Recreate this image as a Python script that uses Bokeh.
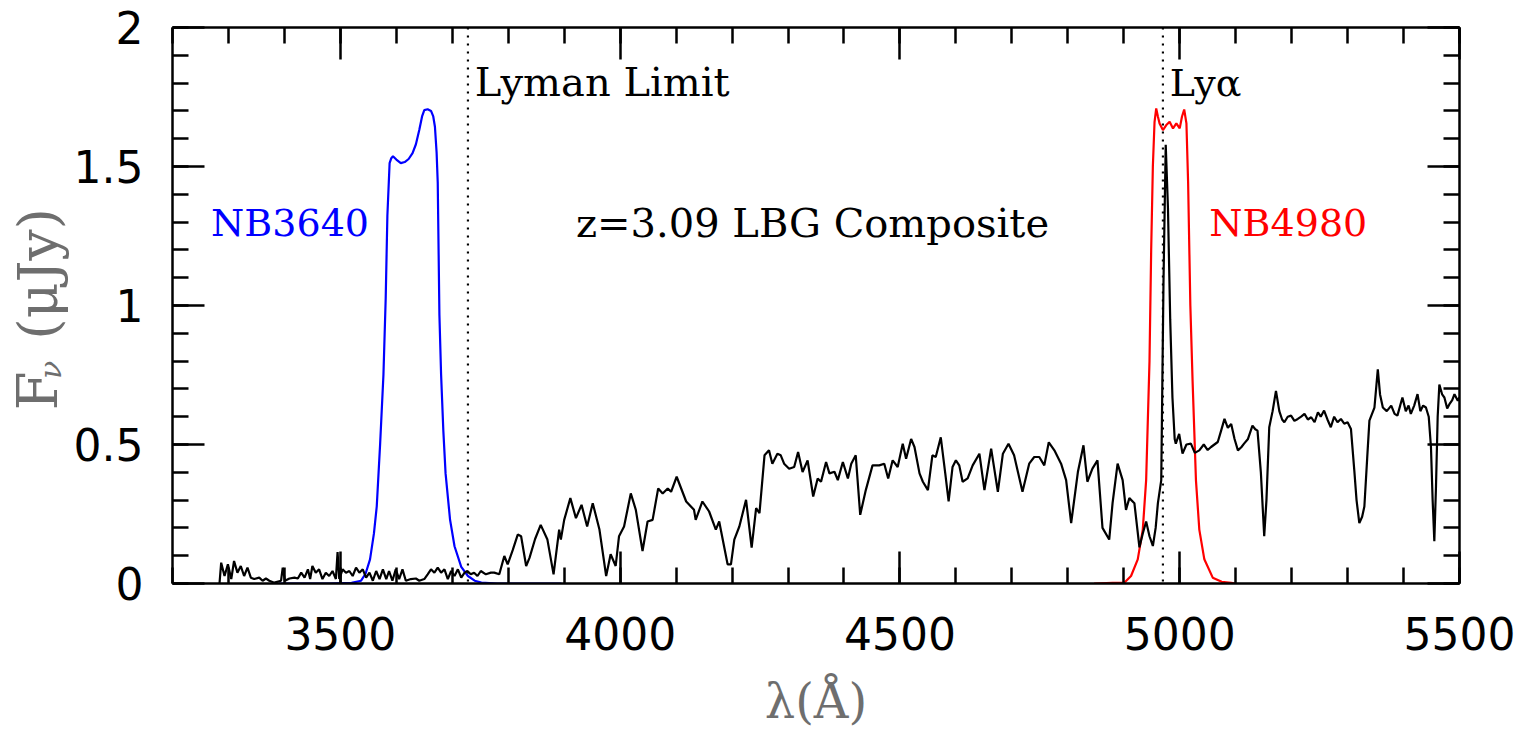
import math
from bokeh.plotting import figure
from bokeh.layouts import row
from bokeh.models import Range1d, LinearAxis, FixedTicker, Span, Label, CustomJSTickFormatter
from bokeh.core.properties import value
from bokeh.embed import file_html
from bokeh.resources import INLINE

# ---------------- data ----------------
spec_wave = [
    3284, 3287, 3293, 3299, 3305, 3310, 3316, 3322, 3328, 3334,
    3340, 3346, 3355, 3361, 3367, 3373, 3382, 3394, 3397, 3401,
    3409, 3418, 3424, 3430, 3436, 3442, 3446, 3450, 3456, 3462,
    3468, 3474, 3480, 3486, 3492, 3495, 3498, 3504, 3510, 3516,
    3522, 3528, 3534, 3540, 3546, 3552, 3558, 3564, 3570, 3576,
    3582, 3587, 3593, 3599, 3605, 3611, 3617, 3626, 3635, 3641,
    3650, 3656, 3662, 3668, 3674, 3680, 3686, 3692, 3698, 3704,
    3710, 3716, 3722, 3727, 3733, 3739, 3745, 3751, 3760, 3769,
    3775, 3784, 3793, 3799, 3808, 3817, 3823, 3832, 3838, 3848,
    3858, 3870, 3881, 3891, 3894, 3900, 3911, 3921, 3931, 3941,
    3951, 3963, 3975, 3983, 3992, 3998, 4007, 4019, 4028, 4040,
    4049, 4058, 4068, 4076, 4085, 4091, 4101, 4118, 4132, 4135,
    4147, 4159, 4171, 4177, 4192, 4198, 4204, 4213, 4225, 4235,
    4243, 4249, 4258, 4266, 4272, 4281, 4287, 4293, 4302, 4311,
    4318, 4326, 4335, 4345, 4353, 4359, 4368, 4374, 4383, 4389,
    4398, 4407, 4413, 4421, 4429, 4439, 4451, 4463, 4472, 4479,
    4487, 4496, 4505, 4511, 4520, 4526, 4535, 4541, 4550, 4558,
    4564, 4573, 4581, 4587, 4594, 4600, 4606, 4612, 4621, 4630,
    4642, 4651, 4663, 4675, 4684, 4694, 4704, 4719, 4731, 4740,
    4749, 4758, 4766, 4776, 4788, 4797, 4806, 4818, 4828, 4835,
    4844, 4853, 4862, 4874, 4880, 4889, 4898, 4904, 4910, 4919,
    4928, 4934, 4940, 4946, 4952, 4957, 4961, 4967, 4971, 4975,
    4979, 4983, 4987, 4991, 4993, 4999, 5005, 5012, 5020, 5027,
    5035, 5043, 5050, 5056, 5062, 5068, 5074, 5080, 5086, 5092,
    5098, 5104, 5110, 5115, 5122, 5130, 5135, 5139, 5145, 5151,
    5155, 5160, 5166, 5172, 5178, 5183, 5187, 5193, 5199, 5205,
    5211, 5217, 5223, 5229, 5235, 5241, 5247, 5252, 5258, 5264,
    5270, 5276, 5282, 5288, 5294, 5300, 5306, 5312, 5316, 5321,
    5326, 5330, 5335, 5339, 5348, 5354, 5358, 5363, 5370, 5378,
    5384, 5389, 5394, 5398, 5404, 5409, 5413, 5419, 5425, 5430,
    5435, 5440, 5445, 5449, 5452, 5455, 5458, 5461, 5464, 5469,
    5473, 5478, 5482, 5487, 5491, 5497, 5500,
]
spec_flux = [
    0.000, 0.075, 0.027, 0.069, 0.016, 0.081, 0.039, 0.063, 0.027, 0.057,
    0.021, 0.016, 0.021, 0.010, 0.018, 0.010, 0.003, 0.010, 0.057, 0.010,
    0.018, 0.021, 0.018, 0.039, 0.021, 0.051, 0.016, 0.063, 0.039, 0.051,
    0.016, 0.039, 0.027, 0.045, 0.016, 0.113, 0.016, 0.051, 0.039, 0.045,
    0.027, 0.057, 0.039, 0.051, 0.021, 0.039, 0.010, 0.045, 0.016, 0.051,
    0.016, 0.045, 0.010, 0.051, 0.016, 0.051, 0.010, 0.016, 0.018, 0.010,
    0.016, 0.033, 0.051, 0.039, 0.057, 0.039, 0.051, 0.016, 0.045, 0.027,
    0.051, 0.021, 0.039, 0.045, 0.033, 0.039, 0.027, 0.045, 0.033, 0.039,
    0.039, 0.033, 0.099, 0.069, 0.120, 0.176, 0.170, 0.063, 0.092, 0.160,
    0.211, 0.158, 0.033, 0.194, 0.158, 0.229, 0.307, 0.235, 0.283, 0.205,
    0.289, 0.194, 0.027, 0.105, 0.063, 0.170, 0.205, 0.324, 0.265, 0.117,
    0.223, 0.229, 0.342, 0.324, 0.342, 0.330, 0.384, 0.295, 0.265, 0.229,
    0.295, 0.259, 0.194, 0.223, 0.069, 0.069, 0.158, 0.205, 0.301, 0.129,
    0.271, 0.253, 0.461, 0.479, 0.431, 0.467, 0.461, 0.431, 0.413, 0.419,
    0.473, 0.401, 0.443, 0.313, 0.378, 0.366, 0.437, 0.396, 0.402, 0.372,
    0.437, 0.378, 0.431, 0.461, 0.247, 0.336, 0.425, 0.425, 0.431, 0.378,
    0.443, 0.419, 0.503, 0.449, 0.520, 0.491, 0.396, 0.366, 0.336, 0.461,
    0.455, 0.526, 0.396, 0.295, 0.419, 0.443, 0.425, 0.366, 0.378, 0.425,
    0.467, 0.336, 0.485, 0.330, 0.467, 0.503, 0.461, 0.330, 0.431, 0.455,
    0.455, 0.425, 0.508, 0.479, 0.431, 0.372, 0.217, 0.401, 0.497, 0.366,
    0.413, 0.443, 0.200, 0.158, 0.289, 0.431, 0.372, 0.265, 0.307, 0.289,
    0.130, 0.180, 0.223, 0.170, 0.135, 0.200, 0.289, 0.372, 1.085, 1.578,
    1.350, 0.950, 0.669, 0.520, 0.503, 0.538, 0.467, 0.500, 0.503, 0.470,
    0.479, 0.500, 0.480, 0.491, 0.500, 0.509, 0.550, 0.592, 0.560, 0.574,
    0.520, 0.479, 0.490, 0.503, 0.520, 0.568, 0.555, 0.550, 0.400, 0.170,
    0.300, 0.562, 0.620, 0.693, 0.620, 0.590, 0.580, 0.600, 0.604, 0.585,
    0.592, 0.600, 0.610, 0.590, 0.598, 0.580, 0.616, 0.600, 0.622, 0.590,
    0.562, 0.600, 0.580, 0.592, 0.575, 0.580, 0.556, 0.407, 0.300, 0.217,
    0.240, 0.277, 0.450, 0.586, 0.633, 0.770, 0.680, 0.633, 0.620, 0.640,
    0.610, 0.604, 0.640, 0.669, 0.620, 0.640, 0.610, 0.640, 0.681, 0.620,
    0.640, 0.633, 0.600, 0.491, 0.300, 0.152, 0.350, 0.600, 0.716, 0.680,
    0.669, 0.630, 0.645, 0.660, 0.681, 0.657, 0.670,
]

nb3640_wave = [3390, 3480, 3520, 3537, 3545, 3553, 3560, 3565, 3571, 3577,
               3581, 3584, 3588, 3591, 3594, 3600, 3608, 3615, 3622, 3629,
               3635, 3641, 3646, 3650, 3656, 3662, 3666, 3669, 3672, 3674,
               3677, 3680, 3684, 3688, 3696, 3704, 3716, 3728, 3740, 3752,
               3780, 3895]
nb3640_trans = [0.000, 0.000, 0.002, 0.010, 0.035, 0.087, 0.180, 0.277, 0.500, 0.752,
                1.025, 1.322, 1.512, 1.530, 1.537, 1.525, 1.512, 1.516, 1.527, 1.548,
                1.580, 1.631, 1.680, 1.703, 1.706, 1.700, 1.680, 1.643, 1.550, 1.443,
                0.966, 0.752, 0.550, 0.396, 0.230, 0.134, 0.060, 0.027, 0.010, 0.003,
                0.000, 0.000]

nb4980_wave = [4847, 4880, 4901, 4913, 4925, 4934, 4940, 4946, 4949, 4952,
               4955, 4958, 4961, 4964, 4970, 4976, 4982, 4988, 4994, 5000,
               5004, 5008, 5012, 5015, 5019, 5023, 5029, 5035, 5044, 5059,
               5075, 5092, 5100]
nb4980_trans = [0.000, 0.002, 0.003, 0.027, 0.087, 0.194, 0.372, 0.800, 1.200, 1.500,
                1.660, 1.709, 1.680, 1.655, 1.631, 1.649, 1.661, 1.637, 1.655, 1.637,
                1.679, 1.705, 1.655, 1.443, 1.000, 0.728, 0.372, 0.194, 0.087, 0.021,
                0.006, 0.002, 0.000]

feature_wave = [3728, 4970]          # Lyman limit, Ly-alpha at z=3.09
x_major = [3500, 4000, 4500, 5000, 5500]
x_minor = [3200, 3300, 3400, 3500, 3600, 3700, 3800, 3900, 4000, 4100, 4200, 4300,
           4400, 4500, 4600, 4700, 4800, 4900, 5000, 5100, 5200, 5300, 5400, 5500]
y_major = [0, 0.5, 1, 1.5, 2]
y_minor = [0, 0.1, 0.2, 0.3, 0.4, 0.5, 0.6, 0.7, 0.8, 0.9, 1.0,
           1.1, 1.2, 1.3, 1.4, 1.5, 1.6, 1.7, 1.8, 1.9, 2.0]

GREY = "#6e6e6e"

# ---------------- y-axis title strip (frame aligns with main plot frame) ----------------
TW = 70
title_fig = figure(width=TW, height=719, x_range=Range1d(0, TW), y_range=Range1d(0, 2),
                   output_backend="svg", toolbar_location=None,
                   x_axis_location=None, y_axis_location=None,
                   min_border_left=0, min_border_right=0,
                   min_border_top=27, min_border_bottom=136,
                   outline_line_color=None,
                   background_fill_color="white", border_fill_color="white")
title_fig.grid.visible = False
title_fig.text(x=[37], y=[0.593], text=["F"], angle=math.pi / 2,
               text_font=value("DejaVu Serif"), text_font_size="56px",
               text_color=GREY, text_align="left", text_baseline="middle")
title_fig.text(x=[50], y=[0.708], text=["ν"], angle=math.pi / 2,
               text_font=value("DejaVu Serif"), text_font_style="italic",
               text_font_size="30px", text_color=GREY, text_align="left",
               text_baseline="middle")
title_fig.text(x=[37], y=[0.852], text=["(μJy)"], angle=math.pi / 2,
               text_font=value("DejaVu Serif"), text_font_size="55px",
               text_color=GREY, text_align="left", text_baseline="middle")

# ---------------- main figure ----------------
p = figure(frame_width=1287, frame_height=556,
           x_range=Range1d(3200, 5500), y_range=Range1d(0, 2),
           output_backend="svg", toolbar_location=None,
           min_border_left=100, min_border_right=59,
           min_border_top=27, min_border_bottom=136,
           background_fill_color="white", border_fill_color="white")
p.xgrid.visible = False
p.ygrid.visible = False
p.outline_line_color = None

num_fmt = CustomJSTickFormatter(code="return tick.toString();")
blank_fmt = CustomJSTickFormatter(code="return '';")

def style_axis(ax):
    ax.axis_line_width = 2.5
    ax.axis_line_color = "black"
    ax.major_tick_in = 32
    ax.major_tick_out = 0
    ax.minor_tick_in = 16
    ax.minor_tick_out = 0
    ax.major_tick_line_width = 2.5
    ax.minor_tick_line_width = 2.5
    ax.major_tick_line_color = "black"
    ax.minor_tick_line_color = "black"
    ax.major_label_text_font = "DejaVu Sans"
    ax.major_label_text_font_size = "44px"
    ax.major_label_text_color = "black"

xb = p.xaxis[0]
xb.ticker = FixedTicker(ticks=x_major, minor_ticks=x_minor)
xb.formatter = num_fmt
style_axis(xb)
xb.major_label_standoff = 33
xb.axis_label = "λ(Å)"
xb.axis_label_text_font = "DejaVu Serif"
xb.axis_label_text_font_size = "48px"
xb.axis_label_text_font_style = "normal"
xb.axis_label_text_color = GREY
xb.axis_label_standoff = 20

yl = p.yaxis[0]
yl.ticker = FixedTicker(ticks=y_major, minor_ticks=y_minor)
yl.formatter = num_fmt
style_axis(yl)
yl.major_label_standoff = 29

xt = LinearAxis(ticker=FixedTicker(ticks=x_major, minor_ticks=x_minor), formatter=blank_fmt)
style_axis(xt)
p.add_layout(xt, "above")
yr = LinearAxis(ticker=FixedTicker(ticks=y_major, minor_ticks=y_minor), formatter=blank_fmt)
style_axis(yr)
p.add_layout(yr, "right")

# curves
p.line(nb3640_wave, nb3640_trans, line_color="#0000ff", line_width=2.2)
p.line(nb4980_wave, nb4980_trans, line_color="#ff0000", line_width=2.2)
p.line(spec_wave, spec_flux, line_color="black", line_width=2.2)

for w in feature_wave:
    p.add_layout(Span(location=w, dimension="height", line_color="black",
                      line_width=2.2, line_dash="2 6"))

ann_font = "DejaVu Serif"
for txt, xx, yy, col, fs in [("Lyman Limit", 3740, 1.803, "black", "40px"),
                             ("Lyα", 4982, 1.80, "black", "38px"),
                             ("z=3.09 LBG Composite", 3921, 1.295, "black", "40px"),
                             ("NB3640", 3269, 1.295, "#0000ff", "38px"),
                             ("NB4980", 5053, 1.295, "#ff0000", "38px")]:
    p.add_layout(Label(x=xx, y=yy, text=txt, text_color=col, text_font=ann_font,
                       text_font_size=fs, text_align="left",
                       text_baseline="alphabetic"))

layout = row(title_fig, p)
open("out.html", "w").write(file_html(layout, INLINE))
